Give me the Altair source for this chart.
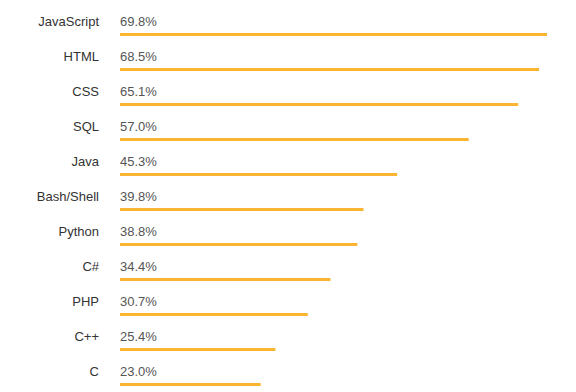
import altair as alt
import pandas as pd

languages = ["JavaScript", "HTML", "CSS", "SQL", "Java", "Bash/Shell",
             "Python", "C#", "PHP", "C++", "C"]
shares = [69.8, 68.5, 65.1, 57.0, 45.3, 39.8, 38.8, 34.4, 30.7, 25.4, 23.0]

df = pd.DataFrame({"lang": languages, "share": shares})
df["label"] = df["share"].map(lambda v: f"{v:.1f}%")

FONT = "Liberation Sans"

y = alt.Y("lang:N", sort=languages, axis=None,
          scale=alt.Scale(paddingInner=0, paddingOuter=0))
xs = alt.Scale(domain=[0, max(shares)], nice=False, zero=True)

base = alt.Chart(df)

bars = base.mark_bar(color="#FBB532", size=3, yOffset=9).encode(
    x=alt.X("share:Q", scale=xs, axis=None),
    y=y,
)

pct = base.mark_text(align="left", baseline="alphabetic", font=FONT,
                     fontSize=13, color="#555555", yOffset=0.5).encode(
    x=alt.value(0),
    y=y,
    text="label:N",
)

names = base.mark_text(align="right", baseline="alphabetic", font=FONT,
                       fontSize=13, color="#333333", yOffset=0.5).encode(
    x=alt.value(-21),
    y=y,
    text="lang:N",
)

chart = alt.layer(bars, pct, names).properties(
    width=427,
    height=alt.Step(35),
    padding={"left": 112, "top": 0, "right": 0, "bottom": 0},
    autosize=alt.AutoSizeParams(type="none"),
).configure_view(stroke=None)

chart.save("out.html", embed_options={"renderer": "svg", "actions": False})
